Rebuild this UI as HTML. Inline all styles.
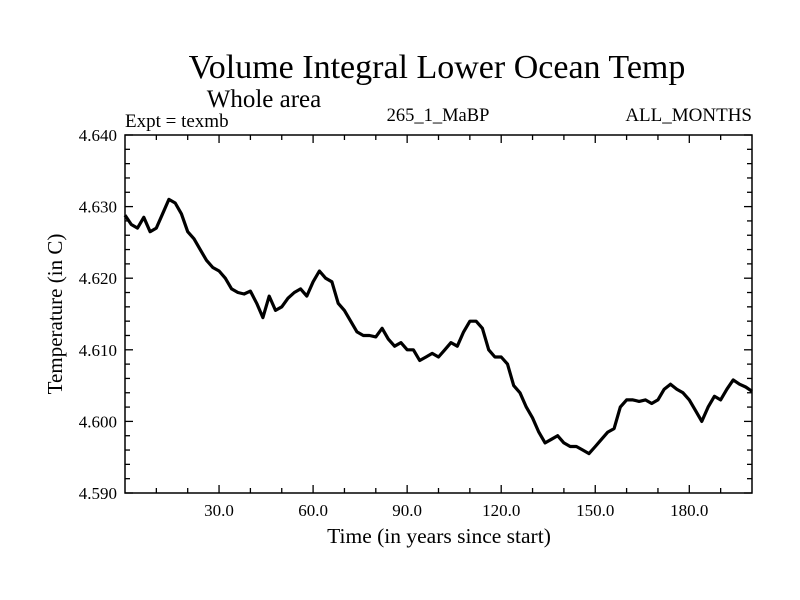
<!DOCTYPE html>
<html><head><meta charset="utf-8">
<style>
html,body{margin:0;padding:0;background:#fff;}
svg{display:block;font-family:"Liberation Serif",serif;}
</style></head>
<body>
<svg width="800" height="600" viewBox="0 0 800 600">
<text x="437" y="78" font-size="34" text-anchor="middle">Volume Integral Lower Ocean Temp</text>
<text x="264" y="107" font-size="25" text-anchor="middle">Whole area</text>
<text x="125" y="127" font-size="19">Expt = texmb</text>
<text x="438" y="121" font-size="18.5" text-anchor="middle">265_1_MaBP</text>
<text x="752" y="121" font-size="19" text-anchor="end">ALL_MONTHS</text>
<g id="axes"></g>
<path id="line" fill="none" stroke="#000" stroke-width="3.2" stroke-linejoin="round"/>
<rect x="125" y="135" width="627" height="358" fill="none" stroke="#000" stroke-width="1.5"/>
<text x="439" y="543" font-size="21.5" text-anchor="middle">Time (in years since start)</text>
<text transform="translate(62,314) rotate(-90)" font-size="21" text-anchor="middle">Temperature (in C)</text>
</svg>
<script>
const years = [0,2,4,6,8,10,12,14,16,18,20,22,24,26,28,30,32,34,36,38,40,42,44,46,48,50,52,54,56,58,60,62,64,66,68,70,72,74,76,78,80,82,84,86,88,90,92,94,96,98,100,102,104,106,108,110,112,114,116,118,120,122,124,126,128,130,132,134,136,138,140,142,144,146,148,150,152,154,156,158,160,162,164,166,168,170,172,174,176,178,180,182,184,186,188,190,192,194,196,198,200];
const temps = [4.6288,4.6275,4.6270,4.6285,4.6265,4.6270,4.6290,4.6310,4.6305,4.6290,4.6265,4.6255,4.6240,4.6225,4.6215,4.6210,4.6200,4.6185,4.6180,4.6178,4.6182,4.6165,4.6145,4.6175,4.6155,4.6160,4.6172,4.6180,4.6185,4.6175,4.6195,4.6210,4.6200,4.6195,4.6165,4.6155,4.6140,4.6125,4.6120,4.6120,4.6118,4.6130,4.6115,4.6105,4.6110,4.6100,4.6100,4.6085,4.6090,4.6095,4.6090,4.6100,4.6110,4.6105,4.6125,4.6140,4.6140,4.6130,4.6100,4.6090,4.6090,4.6080,4.6050,4.6040,4.6020,4.6005,4.5985,4.5970,4.5975,4.5980,4.5970,4.5965,4.5965,4.5960,4.5955,4.5965,4.5975,4.5985,4.5990,4.6020,4.6030,4.6030,4.6028,4.6030,4.6025,4.6030,4.6045,4.6052,4.6045,4.6040,4.6030,4.6015,4.6000,4.6020,4.6035,4.6030,4.6045,4.6058,4.6052,4.6048,4.6042];
const xTicks = [30,60,90,120,150,180];
const xTickLabels = ["30.0","60.0","90.0","120.0","150.0","180.0"];
const yTicks = [4.59,4.60,4.61,4.62,4.63,4.64];
const yTickLabels = ["4.590","4.600","4.610","4.620","4.630","4.640"];

const L=125,R=752,T=135,B=493,X0=0,X1=200,Y0=4.59,Y1=4.64;
const sx=v=>L+(v-X0)/(X1-X0)*(R-L);
const sy=v=>B-(v-Y0)/(Y1-Y0)*(B-T);
const NS="http://www.w3.org/2000/svg";
const g=document.getElementById('axes');
function ln(x1,y1,x2,y2,name){const l=document.createElementNS(NS,'line');
l.setAttribute('x1',x1);l.setAttribute('y1',y1);l.setAttribute('x2',x2);l.setAttribute('y2',y2);
l.setAttribute('stroke','#000');l.setAttribute('stroke-width','1.3');


g.appendChild(l);}
function tx(x,y,s,anchor,name){const t=document.createElementNS(NS,'text');
t.setAttribute('x',x);t.setAttribute('y',y);t.setAttribute('font-size','17');t.setAttribute('text-anchor',anchor);t.textContent=s;


g.appendChild(t);}
for(let v=10;v<200;v+=10){const major=v%30===0;const len=major?8:5;const x=sx(v);
ln(x,B,x,B-len,'x-tick');ln(x,T,x,T+len,'x-tick-top');}
xTicks.forEach((v,i)=>tx(sx(v),516,xTickLabels[i],'middle','x-tick-label'));
for(let k=0;k<=25;k++){const v=Y0+k*0.002;const major=k%5===0;const len=major?8:5;const y=sy(v);
ln(L,y,L+len,y,'y-tick');ln(R,y,R-len,y,'y-tick-right');}
yTicks.forEach((v,i)=>tx(117,sy(v)+6,yTickLabels[i],'end','y-tick-label'));
let d='';years.forEach((yr,i)=>{d+=(i?'L':'M')+sx(yr).toFixed(1)+','+sy(temps[i]).toFixed(1);});
document.getElementById('line').setAttribute('d',d);
</script>
</body></html>
